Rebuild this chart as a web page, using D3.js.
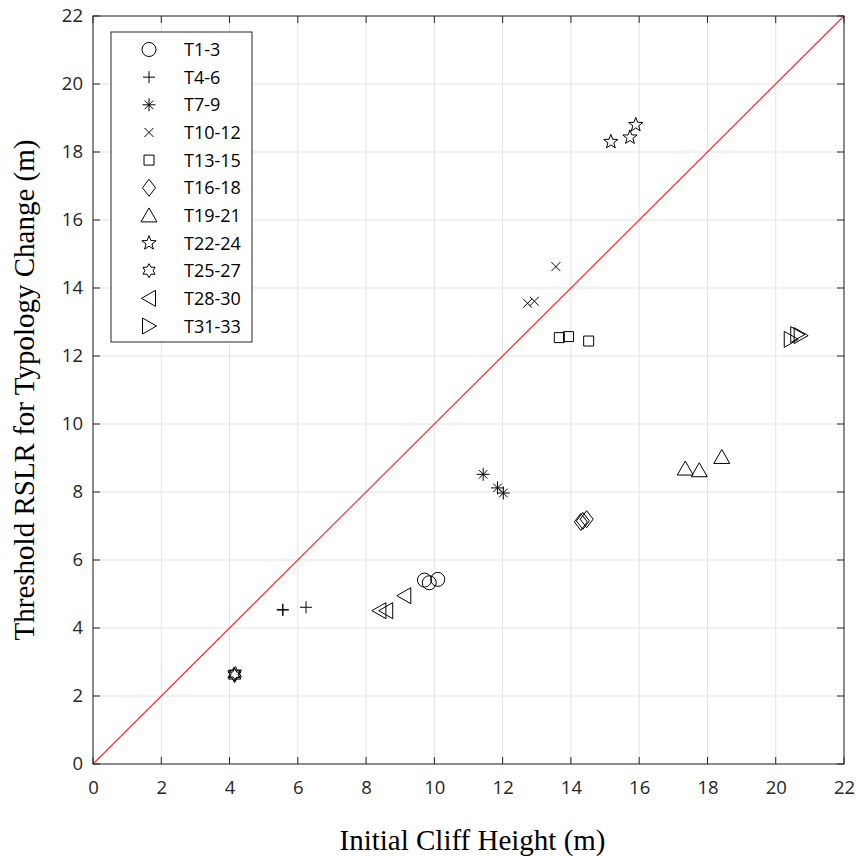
<!DOCTYPE html>
<html>
<head>
<meta charset="utf-8">
<script src="https://cdn.jsdelivr.net/npm/d3@7"></script>
<style>
  body { margin: 0; background: #fff; }
  .tick text { font-family: "Open Sans", "Noto Sans", sans-serif; font-size: 18.5px; fill: #262626; }
  .lbl { font-family: "Liberation Serif", "Times New Roman", serif; font-size: 29px; fill: #000; }
  .leg text { font-family: "Open Sans", "Noto Sans", sans-serif; font-size: 18px; fill: #000; }
</style>
</head>
<body>
<script>
var width = 860,
    height = 856;

var margin = {left: 93, right: 16, top: 16, bottom: 92};

// marker groups, legend order
var groups = ["T1-3", "T4-6", "T7-9", "T10-12", "T13-15", "T16-18",
              "T19-21", "T22-24", "T25-27", "T28-30", "T31-33"];
var shapes = ["o", "+", "*", "x", "s", "d", "^", "p", "h", "<", ">"];

// initial cliff height (m) per group
var heights = [
  [9.71, 9.85, 10.10],
  [5.56, 5.56, 6.24],
  [11.43, 11.85, 12.02],
  [13.56, 12.73, 12.93],
  [13.66, 13.93, 14.52],
  [14.29, 14.35, 14.46],
  [17.35, 17.76, 18.42],
  [15.17, 15.73, 15.90],
  [4.13, 4.15, 4.17],
  [8.39, 8.59, 9.12],
  [20.44, 20.63, 20.73]
];
// threshold RSLR (m) per group
var thresholds = [
  [5.41, 5.33, 5.43],
  [4.53, 4.54, 4.61],
  [8.52, 8.12, 7.97],
  [14.63, 13.55, 13.61],
  [12.54, 12.57, 12.44],
  [7.12, 7.15, 7.20],
  [8.69, 8.64, 9.03],
  [18.30, 18.43, 18.80],
  [2.64, 2.60, 2.66],
  [4.51, 4.51, 4.95],
  [12.49, 12.63, 12.60]
];

var ticks = d3.range(0, 23, 2);

var x = d3.scaleLinear().domain([0, 22]).range([margin.left, width - margin.right]);
var y = d3.scaleLinear().domain([0, 22]).range([height - margin.bottom, margin.top]);

var svg = d3.select("body").append("svg")
    .attr("width", width)
    .attr("height", height);

// grid lines
svg.append("g")
    .selectAll("line.gx")
    .data(ticks)
    .enter().append("line")
    .attr("x1", d => x(d)).attr("x2", d => x(d))
    .attr("y1", y(0)).attr("y2", y(22))
    .attr("stroke", "#e3e3e3");
svg.append("g")
    .selectAll("line.gy")
    .data(ticks)
    .enter().append("line")
    .attr("y1", d => y(d)).attr("y2", d => y(d))
    .attr("x1", x(0)).attr("x2", x(22))
    .attr("stroke", "#e3e3e3");

// 1:1 line
svg.append("line")
    .attr("x1", x(0)).attr("y1", y(0))
    .attr("x2", x(22)).attr("y2", y(22))
    .attr("stroke", "#ff2a2a")
    .attr("stroke-width", 1.2);

// axes
svg.append("g")
    .attr("transform", "translate(0," + y(0) + ")")
    .call(d3.axisBottom(x).tickValues(ticks).tickSize(0).tickPadding(17));
svg.append("g")
    .attr("transform", "translate(" + x(0) + ",0)")
    .call(d3.axisLeft(y).tickValues(ticks).tickSize(0).tickPadding(10));
svg.selectAll(".domain").remove();

// inner tick marks on all four sides
var tk = svg.append("g").attr("stroke", "#262626");
ticks.forEach(function(t) {
  tk.append("line").attr("x1", x(t)).attr("x2", x(t)).attr("y1", y(0)).attr("y2", y(0) - 7);
  tk.append("line").attr("x1", x(t)).attr("x2", x(t)).attr("y1", y(22)).attr("y2", y(22) + 7);
  tk.append("line").attr("y1", y(t)).attr("y2", y(t)).attr("x1", x(0)).attr("x2", x(0) + 7);
  tk.append("line").attr("y1", y(t)).attr("y2", y(t)).attr("x1", x(22)).attr("x2", x(22) - 7);
});

svg.append("rect")
    .attr("x", x(0)).attr("y", y(22))
    .attr("width", x(22) - x(0)).attr("height", y(0) - y(22))
    .attr("fill", "none")
    .attr("stroke", "#262626");

// outlined marker shapes, like matlab's line markers
function markerPath(s) {
  var p = d3.path();
  if (s == "o") { p.moveTo(7, 0); p.arc(0, 0, 7, 0, 2 * Math.PI); }
  else if (s == "+") { p.moveTo(-6, 0); p.lineTo(6, 0); p.moveTo(0, -6); p.lineTo(0, 6); }
  else if (s == "*") {
    [0, 45, 90, 135].forEach(function(a) {
      var r = a % 90 ? 6 : 6.5, c = Math.cos(a * Math.PI / 180) * r, d = Math.sin(a * Math.PI / 180) * r;
      p.moveTo(-c, -d); p.lineTo(c, d);
    });
  }
  else if (s == "x") { p.moveTo(-4.5, -4.5); p.lineTo(4.5, 4.5); p.moveTo(-4.5, 4.5); p.lineTo(4.5, -4.5); }
  else if (s == "s") { p.rect(-5, -5, 10, 10); }
  else if (s == "d") { p.moveTo(0, -8.5); p.lineTo(6.5, 0); p.lineTo(0, 8.5); p.lineTo(-6.5, 0); p.closePath(); }
  else if (s == "^") { p.moveTo(0, -7.5); p.lineTo(8, 6.5); p.lineTo(-8, 6.5); p.closePath(); }
  else if (s == "<") { p.moveTo(-7.5, 0); p.lineTo(6.5, -8); p.lineTo(6.5, 8); p.closePath(); }
  else if (s == ">") { p.moveTo(7.5, 0); p.lineTo(-6.5, -8); p.lineTo(-6.5, 8); p.closePath(); }
  else if (s == "p" || s == "h") {
    var n = s == "p" ? 5 : 6, ro = s == "p" ? 7.5 : 7, ri = s == "p" ? 3.1 : 7 / Math.sqrt(3);
    for (var i = 0; i < 2 * n; i++) {
      var r = i % 2 ? ri : ro, a = -Math.PI / 2 + i * Math.PI / n;
      if (i == 0) p.moveTo(r * Math.cos(a), r * Math.sin(a));
      else p.lineTo(r * Math.cos(a), r * Math.sin(a));
    }
    p.closePath();
  }
  return p.toString();
}

// data points
groups.forEach(function(g, i) {
  svg.append("g")
    .selectAll("path")
    .data(d3.zip(heights[i], thresholds[i]))
    .enter().append("path")
    .attr("transform", d => "translate(" + x(d[0]) + "," + y(d[1]) + ")")
    .attr("d", markerPath(shapes[i]))
    .attr("fill", "none")
    .attr("stroke", "#000")
    .attr("stroke-width", 1);
});

// legend
var leg = svg.append("g").attr("class", "leg");
leg.append("rect")
    .attr("x", 111).attr("y", 32)
    .attr("width", 141).attr("height", 310)
    .attr("fill", "#fff")
    .attr("stroke", "#262626");
groups.forEach(function(g, i) {
  var yy = 49.5 + i * 27.65;
  leg.append("path")
    .attr("transform", "translate(149," + yy + ")")
    .attr("d", markerPath(shapes[i]))
    .attr("fill", "none").attr("stroke", "#000");
  leg.append("text")
    .attr("x", 184).attr("y", yy + 6.5)
    .text(g);
});

// axis labels
svg.append("text")
    .attr("class", "lbl")
    .attr("x", (x(0) + x(22)) / 2 + 4).attr("y", 850)
    .attr("text-anchor", "middle")
    .text("Initial Cliff Height (m)");
svg.append("text")
    .attr("class", "lbl")
    .attr("transform", "translate(34," + (y(11)) + ") rotate(-90)")
    .attr("text-anchor", "middle")
    .text("Threshold RSLR for Typology Change (m)");
</script>
</body>
</html>
